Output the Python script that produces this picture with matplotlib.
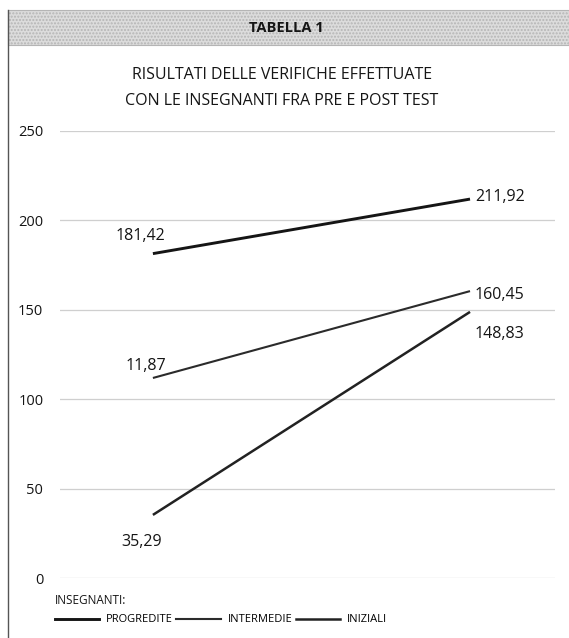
import matplotlib.pyplot as plt
from matplotlib.patches import Rectangle
from matplotlib.lines import Line2D

# Data: pre test / post test per gruppo di insegnanti
phases = [0, 1]
series_names = ["PROGREDITE", "INTERMEDIE", "INIZIALI"]
progredite = [181.42, 211.92]
intermedie = [111.87, 160.45]
iniziali = [35.29, 148.83]
progredite_labels = ["181,42", "211,92"]
intermedie_labels = ["11,87", "160,45"]
iniziali_labels = ["35,29", "148,83"]
y_ticks = [0, 50, 100, 150, 200, 250]

plt.rcParams['font.family'] = ['Open Sans', 'DejaVu Sans']
ink = '#151515'

fig = plt.figure(figsize=(5.69, 6.38), dpi=100)
W, H = 569, 638

# Header band with hatched grey background
header = Rectangle((8 / W, 1 - 45 / H), 1 - 8 / W, 35 / H, transform=fig.transFigure,
                   facecolor='#dcdcdc', edgecolor='#b5b5b5', hatch='.....', linewidth=0.8)
fig.patches.append(header)
fig.add_artist(Line2D([8 / W, 8 / W], [0, 1 - 10 / H], transform=fig.transFigure,
                      color='#555555', linewidth=1.0))
fig.text(286 / W, 1 - 28 / H, "TABELLA 1", ha='center', va='center',
         fontsize=10.5, fontweight='bold', color=ink)

fig.text(282 / W, 1 - 75 / H, "RISULTATI DELLE VERIFICHE EFFETTUATE", ha='center',
         va='center', fontsize=11.5, fontweight='medium', color=ink)
fig.text(282 / W, 1 - 101 / H, "CON LE INSEGNANTI FRA PRE E POST TEST", ha='center',
         va='center', fontsize=11.5, fontweight='medium', color=ink)

ax = fig.add_axes([60 / W, 60 / H, 495 / W, 447 / H])
ax.set_xlim(-0.293, 1.268)
ax.set_ylim(0, 250)
ax.set_yticks(y_ticks)
ax.set_xticks([])
ax.yaxis.grid(True, color='#cfcfcf', linewidth=0.9)
ax.set_axisbelow(True)
for s in ax.spines.values():
    s.set_visible(False)
ax.tick_params(axis='y', length=0, pad=12, labelsize=10.5, labelcolor=ink)

ax.plot(phases, progredite, color=ink, linewidth=2.1, solid_capstyle='butt')
ax.plot(phases, intermedie, color='#2b2b2b', linewidth=1.5, solid_capstyle='butt')
ax.plot(phases, iniziali, color='#222222', linewidth=1.8, solid_capstyle='butt')

lab = dict(fontsize=11.5, fontweight='medium', color=ink, textcoords='offset pixels', va='center')
ax.annotate(progredite_labels[0], (phases[0], progredite[0]), xytext=(-12, 18), ha='center', **lab)
ax.annotate(progredite_labels[1], (phases[1], progredite[1]), xytext=(5, 2), ha='left', **lab)
ax.annotate(intermedie_labels[0], (phases[0], intermedie[0]), xytext=(-7, 12), ha='center', **lab)
ax.annotate(intermedie_labels[1], (phases[1], intermedie[1]), xytext=(5, -4), ha='left', **lab)
ax.annotate(iniziali_labels[0], (phases[0], iniziali[0]), xytext=(-11, -27), ha='center', **lab)
ax.annotate(iniziali_labels[1], (phases[1], iniziali[1]), xytext=(5, -22), ha='left', **lab)

# Legend
fig.text(55 / W, 1 - 600 / H, "INSEGNANTI:", ha='left', va='center', fontsize=8.5,
         fontweight='medium', color=ink)
handles = [Line2D([], [], color=ink, linewidth=2.1),
           Line2D([], [], color='#2b2b2b', linewidth=1.5),
           Line2D([], [], color='#222222', linewidth=1.8)]
fig.legend(handles, series_names, loc='center left', bbox_to_anchor=(55 / W, 1 - 620 / H),
           ncol=3, frameon=False, prop={'size': 8, 'weight': 'medium'},
           handlelength=4.0, handletextpad=0.6, columnspacing=0.3,
           borderaxespad=0, borderpad=0)

plt.savefig("out.png", dpi=100)
